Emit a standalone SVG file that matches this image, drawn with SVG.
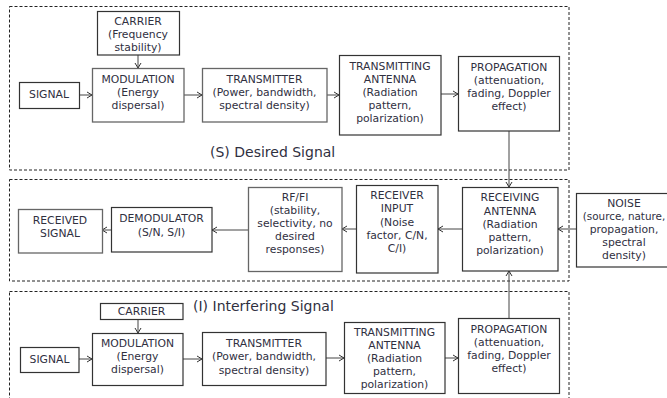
<svg xmlns="http://www.w3.org/2000/svg" width="667" height="398" viewBox="0 0 667 398">
<defs>
<marker id="arr" markerWidth="8" markerHeight="8" refX="6" refY="4" orient="auto" markerUnits="userSpaceOnUse">
<path d="M1,1 L6,4 L1,7" fill="none" stroke="#333" stroke-width="1"/>
</marker>
<style>
.frame{fill:none;stroke:#222;stroke-width:1;stroke-dasharray:3,2}
.box{fill:#fff;stroke:#333;stroke-width:1.2}
.box2{fill:#fff;stroke:#666;stroke-width:1.3}
text{font-family:"DejaVu Sans","Verdana",sans-serif;font-size:10.8px;fill:#30303f;text-anchor:middle}
.title{font-size:14px;text-anchor:start}
.conn line{stroke:#444;stroke-width:1;marker-end:url(#arr)}
</style>
</defs>
<rect width="667" height="398" fill="#fff"/>

<g id="frames">
<rect class="frame" x="9.5" y="6.5" width="559.5" height="163.5"/>
<rect class="frame" x="9.5" y="179.5" width="559.5" height="101.5"/>
<rect class="frame" x="9.5" y="291.5" width="559.5" height="120"/>
</g>

<text class="title" x="210" y="157">(S) Desired Signal</text>
<text class="title" x="193" y="311">(I) Interfering Signal</text>

<g class="conn" id="connectors">
<line x1="138" y1="55" x2="138" y2="68"/>
<line x1="79" y1="95" x2="92" y2="95"/>
<line x1="184" y1="95" x2="202" y2="95"/>
<line x1="327" y1="95" x2="339" y2="95"/>
<line x1="441" y1="94" x2="458" y2="94"/>
<line x1="509" y1="131" x2="509" y2="187"/>
<line x1="576" y1="229" x2="558" y2="229"/>
<line x1="462" y1="229" x2="438" y2="229"/>
<line x1="356" y1="229" x2="342" y2="229"/>
<line x1="248" y1="230" x2="212" y2="230"/>
<line x1="111" y1="230" x2="102" y2="230"/>
<line x1="138" y1="319" x2="138" y2="333"/>
<line x1="79" y1="359" x2="92" y2="359"/>
<line x1="183" y1="359" x2="202" y2="359"/>
<line x1="326" y1="358" x2="344" y2="358"/>
<line x1="445" y1="358" x2="458" y2="358"/>
<line x1="509" y1="318" x2="509" y2="271"/>
</g>

<g id="s-carrier"><rect class="box" x="97.5" y="11.5" width="82" height="43.5"/>
<text x="138" y="25">CARRIER</text><text x="138" y="38">(Frequency</text><text x="138" y="51">stability)</text></g>
<g id="s-signal"><rect class="box" x="19.5" y="82.5" width="60" height="26"/>
<text x="49" y="98">SIGNAL</text></g>
<g id="s-modulation"><rect class="box2" x="92.5" y="68.5" width="91.5" height="53.5"/>
<text x="138" y="83">MODULATION</text><text x="138" y="96">(Energy</text><text x="138" y="109">dispersal)</text></g>
<g id="s-transmitter"><rect class="box2" x="202.5" y="68.5" width="124.5" height="53.5"/>
<text x="264.5" y="83">TRANSMITTER</text><text x="264.5" y="96">(Power, bandwidth,</text><text x="264.5" y="109">spectral density)</text></g>
<g id="s-tx-antenna"><rect class="box" x="339.5" y="55.5" width="101.5" height="79.5"/>
<text x="390" y="70">TRANSMITTING</text><text x="390" y="83">ANTENNA</text><text x="390" y="96">(Radiation</text><text x="390" y="109">pattern,</text><text x="390" y="122">polarization)</text></g>
<g id="s-propagation"><rect class="box" x="458.5" y="56.5" width="101" height="74.5"/>
<text x="509" y="71">PROPAGATION</text><text x="509" y="84">(attenuation,</text><text x="509" y="97">fading, Doppler</text><text x="509" y="110">effect)</text></g>

<g id="received-signal"><rect class="box2" x="18.5" y="209.5" width="84" height="43.5"/>
<text x="60" y="224">RECEIVED</text><text x="60" y="237">SIGNAL</text></g>
<g id="demodulator"><rect class="box" x="111.5" y="207.5" width="100.5" height="44.5"/>
<text x="161.5" y="222">DEMODULATOR</text><text x="161.5" y="236">(S/N, S/I)</text></g>
<g id="rf-fi"><rect class="box2" x="248.5" y="187.5" width="93.5" height="84"/>
<text x="295" y="201">RF/FI</text><text x="295" y="214">(stability,</text><text x="295" y="227">selectivity, no</text><text x="295" y="240">desired</text><text x="295" y="253">responses)</text></g>
<g id="receiver-input"><rect class="box" x="356.5" y="185.5" width="81.5" height="87.5"/>
<text x="397" y="199">RECEIVER</text><text x="397" y="212">INPUT</text><text x="397" y="226">(Noise</text><text x="397" y="239">factor, C/N,</text><text x="397" y="252">C/I)</text></g>
<g id="receiving-antenna"><rect class="box" x="462.5" y="187.5" width="95.5" height="83.5"/>
<text x="510" y="201">RECEIVING</text><text x="510" y="215">ANTENNA</text><text x="510" y="228">(Radiation</text><text x="510" y="241">pattern,</text><text x="510" y="254">polarization)</text></g>
<g id="noise"><rect class="box" x="576.5" y="193.5" width="104" height="73.5"/>
<text x="624" y="207">NOISE</text><text x="624" y="220" style="font-size:10.4px">(source, nature,</text><text x="624" y="233">propagation,</text><text x="624" y="246">spectral</text><text x="624" y="259">density)</text></g>

<g id="i-carrier"><rect class="box" x="100.5" y="303.5" width="82.5" height="16"/>
<text x="141.5" y="315">CARRIER</text></g>
<g id="i-signal"><rect class="box" x="20.5" y="347.5" width="58.5" height="25"/>
<text x="49.5" y="363">SIGNAL</text></g>
<g id="i-modulation"><rect class="box" x="92.5" y="333.5" width="90.5" height="52"/>
<text x="137.5" y="347">MODULATION</text><text x="137.5" y="360">(Energy</text><text x="137.5" y="373">dispersal)</text></g>
<g id="i-transmitter"><rect class="box" x="202.5" y="332.5" width="123.5" height="53"/>
<text x="264" y="347">TRANSMITTER</text><text x="264" y="360">(Power, bandwidth,</text><text x="264" y="374">spectral density)</text></g>
<g id="i-tx-antenna"><rect class="box" x="344.5" y="322.5" width="100.5" height="71"/>
<text x="394.5" y="336">TRANSMITTING</text><text x="394.5" y="349">ANTENNA</text><text x="394.5" y="362">(Radiation</text><text x="394.5" y="375">pattern,</text><text x="394.5" y="388">polarization)</text></g>
<g id="i-propagation"><rect class="box" x="458.5" y="318.5" width="101" height="75"/>
<text x="509" y="333">PROPAGATION</text><text x="509" y="346">(attenuation,</text><text x="509" y="359">fading, Doppler</text><text x="509" y="372">effect)</text></g>
</svg>
